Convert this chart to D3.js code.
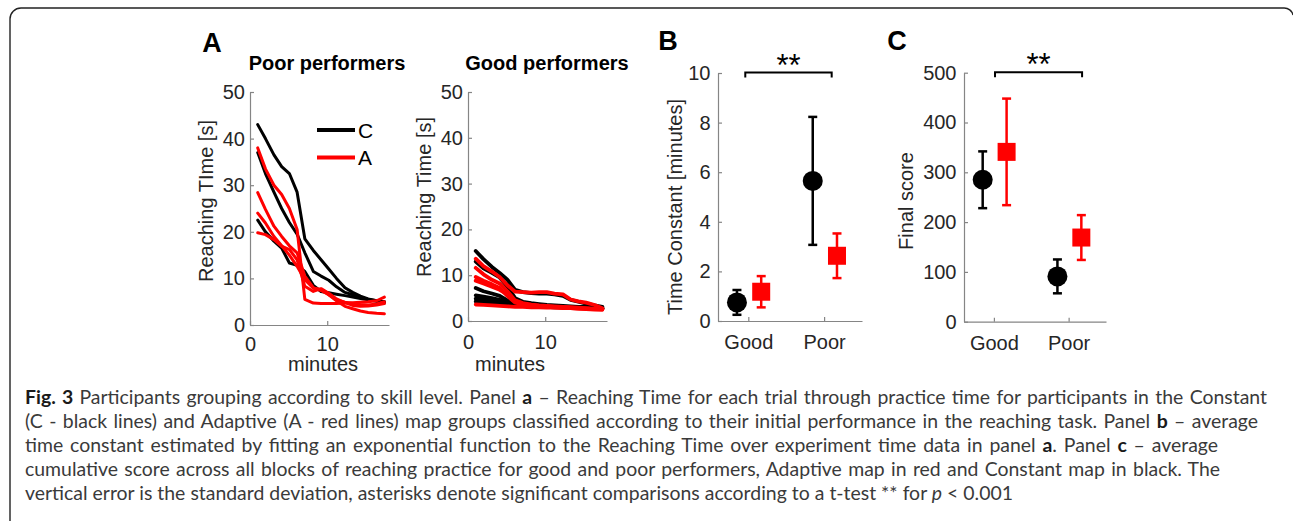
<!DOCTYPE html>
<html><head><meta charset="utf-8">
<script src="https://cdn.jsdelivr.net/npm/d3@7"></script>
<style>body{margin:0;background:#fff} svg{display:block}</style>
</head><body><svg id="fig" width="1293" height="523"></svg>
<script>
// ---------------- DATA ----------------
const minutes = [1.0, 2.0, 3.1, 4.1, 5.1, 6.1, 7.1, 8.2, 9.2, 10.2, 11.2, 12.3, 13.3, 14.3, 15.3, 16.4, 17.4];

const poorConstant = [
  [43, 40, 36.5, 34, 32.5, 28.5, 18.5, 16, 14, 12, 10, 8, 7, 6.2, 5.6, 5.2, 5],
  [37, 32.5, 28.5, 25, 22, 19.5, 15.5, 11.5, 10.5, 9.6, 8.2, 7, 6.5, 6, 5.5, 5.2, 5],
  [22.5, 20, 18, 16.5, 13.3, 12.8, 11.5, 8.5, 7.2, 6.9, 6.6, 6.3, 6, 5.7, 5.4, 5.1, 4.8]
];
const poorAdaptive = [
  [38, 33.5, 30, 28, 25, 20.5, 5.5, 4.7, 4.6, 4.6, 4.6, 4.7, 4.8, 4.9, 5, 5.2, 6],
  [28.4, 24.8, 21.2, 19, 17, 15.5, 10.5, 8, 7.4, 6.5, 5.2, 4, 3.5, 3, 2.7, 2.5, 2.4],
  [24, 21.9, 19, 17, 15, 12.6, 9.7, 7.9, 7.6, 6.5, 5.4, 4.9, 4.6, 4.4, 4.3, 4.5, 5],
  [19.8, 19.4, 18.3, 16.9, 16.2, 14, 8.3, 7.2, 7.8, 6.8, 5.6, 4.8, 4.2, 4, 4.1, 4.3, 4.6]
];
const goodConstant = [
  [15.3, 13.5, 11.8, 10.5, 9, 6.8, 6.3, 6.1, 6, 6, 5.8, 5.5, 4.6, 4.2, 3.8, 3.4, 3.1],
  [13, 11.5, 10.5, 9.5, 7.5, 5, 4.2, 3.9, 3.7, 3.5, 3.4, 3.3, 3.2, 3.1, 3, 2.9, 2.8],
  [7.2, 6.5, 6, 5.5, 4.5, 3.8, 3.6, 3.5, 3.4, 3.3, 3.2, 3.1, 3, 3, 2.9, 2.8, 2.7],
  [5.6, 5.3, 5, 4.6, 4.2, 3.8, 3.6, 3.5, 3.4, 3.3, 3.2, 3.1, 3.1, 3, 3, 2.9, 2.8],
  [4.9, 4.7, 4.5, 4.2, 3.9, 3.6, 3.5, 3.4, 3.3, 3.2, 3.1, 3.1, 3, 3, 2.9, 2.9, 2.8],
  [4.3, 4.1, 3.9, 3.7, 3.5, 3.4, 3.3, 3.2, 3.2, 3.1, 3, 3, 2.9, 2.9, 2.8, 2.8, 2.7]
];
const goodAdaptive = [
  [13.6, 12, 10.8, 9.6, 7.8, 6.4, 6.3, 6.2, 6.3, 6.3, 6, 5.8, 4.7, 4.3, 4, 3.5, 2.8],
  [11.6, 10.2, 9, 8.2, 6.5, 4.5, 3.9, 3.6, 3.4, 3.3, 3.2, 3.1, 3, 2.9, 2.8, 2.7, 2.6],
  [9.6, 8.8, 8, 7.2, 5.5, 4, 3.7, 3.5, 3.3, 3.2, 3.1, 3, 2.9, 2.8, 2.7, 2.6, 2.5],
  [8.8, 8.2, 7.5, 6.8, 5.8, 4.2, 3.6, 3.4, 3.2, 3.1, 3, 2.9, 2.8, 2.7, 2.6, 2.5, 2.5],
  [3.6, 3.5, 3.4, 3.3, 3.2, 3.1, 3.1, 3, 3, 2.9, 2.9, 2.8, 2.8, 2.7, 2.7, 2.6, 2.6]
];

const groups = ["Good", "Poor"];
const tauConstantMean = [0.75, 5.65];
const tauConstantSD   = [0.5, 2.58];
const tauAdaptiveMean = [1.18, 2.63];
const tauAdaptiveSD   = [0.63, 0.9];

const scoreConstantMean = [285, 91];
const scoreConstantSD   = [57, 34];
const scoreAdaptiveMean = [341, 169];
const scoreAdaptiveSD   = [107, 45];

const reachTicks = [0, 10, 20, 30, 40, 50];
const minuteTicks = [0, 10];
const tauTicks = [0, 2, 4, 6, 8, 10];
const scoreTicks = [0, 100, 200, 300, 400, 500];

const captionLines = [
  [["b","Fig. 3"],["r"," Participants grouping according to skill level. Panel "],["b","a"],["r"," – Reaching Time for each trial through practice time for participants in the Constant"]],
  [["r","(C - black lines) and Adaptive (A - red lines) map groups classified according to their initial performance in the reaching task. Panel "],["b","b"],["r"," – average"]],
  [["r","time constant estimated by fitting an exponential function to the Reaching Time over experiment time data in panel "],["b","a"],["r",". Panel "],["b","c"],["r"," – average"]],
  [["r","cumulative score across all blocks of reaching practice for good and poor performers, Adaptive map in red and Constant map in black. The"]],
  [["r","vertical error is the standard deviation, asterisks denote significant comparisons according to a t-test ** for "],["i","p"],["r"," < 0.001"]]
];
const captionWidths = [1242, 1233, 1193, 1195, 988];

// ---------------- DRAW ----------------
const svg = d3.select("#fig");
const FONT = "'Liberation Sans', Arial, Helvetica, sans-serif";
const AX = "#858585", TXT = "#262626";

svg.append("rect").attr("width",1293).attr("height",523).attr("fill","#fff");
svg.append("path")
  .attr("d","M10,521 L10,19 A11,11 0 0 1 21,8 L1284,8 A9,9 0 0 1 1293,15")
  .attr("fill","none").attr("stroke","#222").attr("stroke-width",1.4);

function styleAxis(g){
  g.selectAll(".domain").attr("stroke",AX).attr("stroke-width",1.2);
  g.selectAll(".tick line").attr("stroke",AX).attr("stroke-width",1.2);
  g.selectAll("text").attr("fill",TXT).style("font-family",FONT).style("font-size","20px");
}

function drawAxes(x, y, yT, xT, yPad, xPad, xFormat){
  const [x0] = x.range(); const [y0] = y.range();
  const gy = svg.append("g").attr("transform",`translate(${x0},0)`)
    .call(d3.axisLeft(y).tickValues(yT).tickSizeInner(-4).tickSizeOuter(0).tickPadding(yPad));
  styleAxis(gy);
  const gx = svg.append("g").attr("transform",`translate(0,${y0})`)
    .call(d3.axisBottom(x).tickValues(xT).tickSizeInner(-4).tickSizeOuter(0).tickPadding(xPad)
      .tickFormat(xFormat || d3.format("d")));
  styleAxis(gx);
}

function text(x, y, str, size, opts={}){
  const t = svg.append("text").attr("x",x).attr("y",y).text(str)
    .style("font-family",FONT).style("font-size",size+"px")
    .attr("fill", opts.fill || TXT)
    .attr("text-anchor", opts.anchor || "middle")
    .style("font-weight", opts.bold ? "bold" : "normal");
  if (opts.rotate) t.attr("transform",`rotate(-90,${x},${y})`);
  return t;
}

// ----- Panel A -----
function linePanel(xr, yr, cons, adapt, title, titleX, ylab, ylabX, ylabY, xlabX, sw){
  const x = d3.scaleLinear().domain([0,18]).range(xr);
  const y = d3.scaleLinear().domain([0,50]).range(yr);
  drawAxes(x, y, reachTicks, minuteTicks, 5, yr[0] > 323 ? 11.5 : 14);
  const line = d3.line().x((d,i)=>x(minutes[i])).y(d=>y(d));
  svg.append("g").selectAll("path").data(cons).join("path")
    .attr("d",line).attr("fill","none").attr("stroke","#000").attr("stroke-width",sw)
    .attr("stroke-linejoin","round").attr("stroke-linecap","round");
  svg.append("g").selectAll("path").data(adapt).join("path")
    .attr("d",line).attr("fill","none").attr("stroke","#ff0000").attr("stroke-width",sw)
    .attr("stroke-linejoin","round").attr("stroke-linecap","round");
  text(titleX, 70, title, 20, {bold:true, fill:"#000"});
  text(ylabX, ylabY, ylab, 20, {rotate:true});
  text(xlabX, 371, "minutes", 20);
  return {x,y};
}

linePanel([250,389],[325,92], poorConstant, poorAdaptive, "Poor performers", 327,
  "Reaching TIme [s]", 213, 201, 323, 3);
linePanel([468,607],[321,92], goodConstant, goodAdaptive, "Good performers", 547,
  "Reaching Time [s]", 431, 197, 510, 3.8);

// legend
const legend = [["C","#000"],["A","#ff0000"]];
legend.forEach((d,i)=>{
  const ly = 130 + i*27.5;
  svg.append("line").attr("x1",317).attr("x2",355).attr("y1",ly).attr("y2",ly)
    .attr("stroke",d[1]).attr("stroke-width",3.8);
  text(358, ly+7.5, d[0], 21, {anchor:"start", fill:"#000"});
});

text(212, 52, "A", 27, {bold:true, fill:"#000"});
text(668, 50, "B", 27, {bold:true, fill:"#000"});
text(897, 50, "C", 27, {bold:true, fill:"#000"});

// ----- Panels B & C -----
const dodge = {c:-0.15, a:0.17};
function errPanel(xr, yr, ymax, yT, cm, cs, am, as, ylab, ylabX, ylabY, br){
  const x = d3.scaleLinear().domain([0.6,2.5]).range(xr);
  const y = d3.scaleLinear().domain([0,ymax]).range(yr);
  drawAxes(x, y, yT, [1,2], 7.5, 14, d=>groups[d-1]);
  const sets = [
    {m:cm, s:cs, off:dodge.c, col:"#000", shape:"circle"},
    {m:am, s:as, off:dodge.a, col:"#ff0000", shape:"square"}
  ];
  sets.forEach(st=>{
    const g = svg.append("g");
    st.m.forEach((mv,i)=>{
      const cx = x(i+1+st.off);
      const yt = y(mv+st.s[i]), yb = y(mv-st.s[i]);
      g.append("line").attr("x1",cx).attr("x2",cx).attr("y1",yt).attr("y2",yb)
        .attr("stroke",st.col).attr("stroke-width",2.5);
      [yt,yb].forEach(yy=>g.append("line").attr("x1",cx-4.5).attr("x2",cx+4.5)
        .attr("y1",yy).attr("y2",yy).attr("stroke",st.col).attr("stroke-width",2.5));
      if (st.shape==="circle")
        g.append("circle").attr("cx",cx).attr("cy",y(mv)).attr("r",10).attr("fill",st.col);
      else
        g.append("rect").attr("x",cx-9).attr("y",y(mv)-9).attr("width",18).attr("height",18).attr("fill",st.col);
    });
  });
  // significance bracket
  const by = y(ymax) - 0.5;
  svg.append("path")
    .attr("d",`M${x(br[0])},${by+5} L${x(br[0])},${by} L${x(br[1])},${by} L${x(br[1])},${by+5}`)
    .attr("fill","none").attr("stroke","#000").attr("stroke-width",2);
  text((x(br[0])+x(br[1]))/2, by+3, "**", 31, {fill:"#000"});
  text(ylabX, ylabY, ylab, 20, {rotate:true});
}

errPanel([718,862],[321,73], 10, tauTicks, tauConstantMean, tauConstantSD, tauAdaptiveMean, tauAdaptiveSD,
  "Time Constant [minutes]", 682, 207, [0.96, 2.1]);
errPanel([964,1106],[321.7,72.7], 500, scoreTicks, scoreConstantMean, scoreConstantSD, scoreAdaptiveMean, scoreAdaptiveSD,
  "Final score", 913, 201, [1.015, 2.18]);

// ----- Caption -----
const capTexts = captionLines.map((ln,i)=>{
  const t = svg.append("text").attr("x",25).attr("y",404 + i*24)
    .style("font-family","Lato, 'Open Sans', sans-serif").style("font-size","17.5px")
    .attr("fill","#3a3a3a");
  ln.forEach(([k,s])=>{
    const ts = t.append("tspan").text(s);
    if (k==="b") ts.style("font-weight","bold").attr("fill","#1a1a1a");
    if (k==="i") ts.style("font-style","italic");
  });
  return t;
});
// font size chosen so the last (unjustified) line matches its width
const L5 = capTexts[4].node().getComputedTextLength();
const capFS = 17.5 * captionWidths[4] / L5;
capTexts.forEach((t,i)=>{
  t.style("font-size", capFS + "px");
  const full = captionLines[i].map(d=>d[1]).join("");
  const spaces = (full.match(/ /g) || []).length;
  const L = t.node().getComputedTextLength();
  t.style("word-spacing", ((captionWidths[i]-L)/spaces) + "px");
});
</script></body></html>
